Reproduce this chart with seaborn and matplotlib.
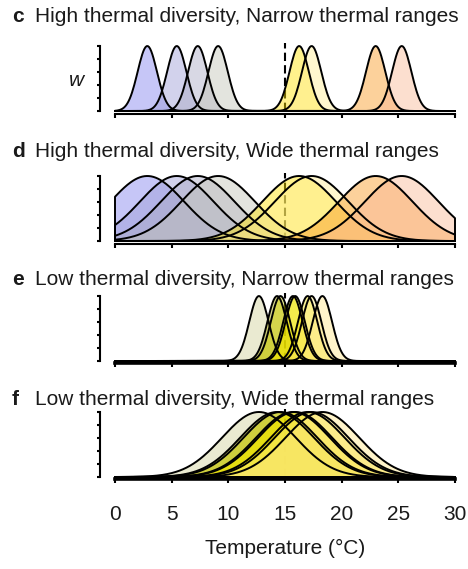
import numpy as np
import pandas as pd
import matplotlib
matplotlib.use('Agg')
import matplotlib.pyplot as plt
import seaborn as sns

sns.set_theme(style='ticks')
plt.rcParams['font.family'] = ['Liberation Sans', 'DejaVu Sans']

# thermal optima (°C) and thermal-range widths
high_div_optima = [2.85, 5.45, 7.3, 9.1, 16.25, 17.35, 23.0, 25.3]
high_div_colors = ['#8282ee', '#9d9dd6', '#aaaac4', '#c2c4b6',
                   '#ffe400', '#ffef94', '#fa9923', '#fab896']
low_div_optima = [12.7, 14.3, 14.6, 15.7, 15.9, 17.0, 17.35, 18.3]
low_div_colors = ['#d2d29a', '#a8a800', '#d4d400', '#e6e000',
                  '#f5e600', '#f0e010', '#ffef80', '#ffe88a']
narrow_width = 0.85
wide_width = 3.25

panels = [
    ('c', 'High thermal diversity, Narrow thermal ranges', high_div_optima, high_div_colors, narrow_width),
    ('d', 'High thermal diversity, Wide thermal ranges', high_div_optima, high_div_colors, wide_width),
    ('e', 'Low thermal diversity, Narrow thermal ranges', low_div_optima, low_div_colors, narrow_width),
    ('f', 'Low thermal diversity, Wide thermal ranges', low_div_optima, low_div_colors, wide_width),
]
xticks = [0, 5, 10, 15, 20, 25, 30]
ref_temp = 15

W, H = 468, 569
fig = plt.figure(figsize=(W / 100, H / 100), dpi=100)

axes_bottom_px = [111, 241, 361, 477]
title_base_px = [22, 157, 285, 405]
txt = '#1a1a1a'

temps = np.linspace(0, 30, 301)

for i, (letter, title, optima, colors, width) in enumerate(panels):
    ax = fig.add_axes([115 / W, 1 - axes_bottom_px[i] / H, 340 / W, 65 / H])
    ax.axvline(ref_temp, ymin=0, ymax=1.05, color='black', lw=1.5,
               ls=(0, (4, 2)), zorder=1.5, clip_on=False)
    outlines = []
    for k, (opt, col) in enumerate(zip(optima, colors)):
        w = np.exp(-(temps - opt) ** 2 / (2 * width ** 2))
        # closed outline: curve then back along the baseline
        xs = np.concatenate([[0], temps, [30, 0]])
        ys = np.concatenate([[0], w, [0, 0]])
        ax.fill(xs, ys, color=col, alpha=0.45, lw=0, zorder=2)
        outlines.append(pd.DataFrame({'Temperature': xs, 'w': ys, 'sp': k}))
    df = pd.concat(outlines, ignore_index=True)
    sns.lineplot(data=df, x='Temperature', y='w', units='sp', sort=False,
                 estimator=None, color='black', lw=1.4, ax=ax, zorder=3,
                 clip_on=False)
    ax.set_xlim(0, 30)
    ax.set_ylim(0, 1)
    ax.set_yticks(np.linspace(0, 1, 6))
    ax.set_yticklabels([])
    ax.set_xticks(xticks)
    ax.set_ylabel('')
    ax.set_xlabel('')
    sns.despine(ax=ax)
    ax.spines['left'].set_position(('outward', 10.5))
    if letter in ('e', 'f'):
        ax.spines['bottom'].set_position(('outward', 1.2))
        ax.spines['bottom'].set_linewidth(2.6)
    else:
        ax.spines['bottom'].set_position(('outward', 2))
        ax.spines['bottom'].set_linewidth(1.5)
    ax.spines['left'].set_linewidth(1.5)
    for s in ['left', 'bottom']:
        ax.spines[s].set_color('black')
    ax.tick_params(axis='y', length=2.5, width=1.5, color='black')
    ax.tick_params(axis='x', length=3, width=1.5, color='black',
                   labelsize=15, labelcolor=txt, pad=16)
    if letter != 'f':
        ax.set_xticklabels([])
    else:
        ax.set_xlabel('Temperature (°C)', fontsize=15, color=txt, labelpad=11)
    if letter == 'c':
        fig.text(77 / W, 1 - 80 / H, 'w', fontsize=15, style='italic',
                 color=txt, ha='center', va='center')
    fig.text(12 / W, 1 - title_base_px[i] / H, letter, fontsize=15,
             fontweight='bold', color=txt, va='baseline')
    fig.text(35 / W, 1 - title_base_px[i] / H, title, fontsize=15,
             color=txt, va='baseline')

fig.savefig('out.png', dpi=100)
